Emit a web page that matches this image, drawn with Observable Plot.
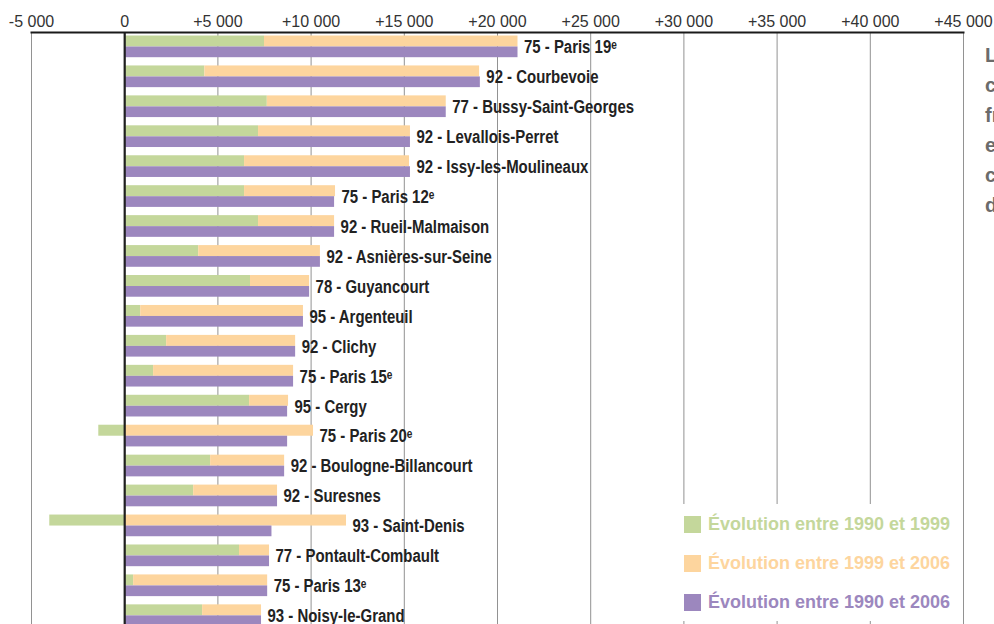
<!DOCTYPE html>
<html><head><meta charset="utf-8">
<script src="https://cdn.jsdelivr.net/npm/d3@7"></script>
<script src="https://cdn.jsdelivr.net/npm/@observablehq/plot@0.6"></script>
<style>
html,body{margin:0;padding:0;background:#fff;overflow:hidden;width:994px;height:624px;}
#wrap{position:relative;width:994px;height:624px;overflow:hidden;}
#wrap svg{position:absolute;left:0;top:0;}
#legend{position:absolute;left:676px;top:504px;width:282px;height:117px;background:#fff;}
.li{position:absolute;left:8px;height:17px;display:flex;align-items:center;white-space:nowrap;font-family:"Liberation Sans",Arial,sans-serif;font-weight:bold;font-size:18px;}
.sw{width:17px;height:17px;margin-right:7px;flex:none;}
#note{position:absolute;left:985px;top:40px;font-family:"Liberation Sans",sans-serif;font-weight:bold;font-size:20px;line-height:30px;color:#6b6b6b;white-space:nowrap;}
</style>
</head><body><div id="wrap"></div>
<script>
// ---- data ----
const communes = [
  "75 - Paris 19ᵉ", "92 - Courbevoie", "77 - Bussy-Saint-Georges", "92 - Levallois-Perret",
  "92 - Issy-les-Moulineaux", "75 - Paris 12ᵉ", "92 - Rueil-Malmaison", "92 - Asnières-sur-Seine",
  "78 - Guyancourt", "95 - Argenteuil", "92 - Clichy", "75 - Paris 15ᵉ", "95 - Cergy",
  "75 - Paris 20ᵉ", "92 - Boulogne-Billancourt", "92 - Suresnes", "93 - Saint-Denis",
  "77 - Pontault-Combault", "75 - Paris 13ᵉ", "93 - Noisy-le-Grand"
];
const evol1990_1999 = [7500, 4300, 7650, 7180, 6430, 6430, 7180, 3970, 6750, 860, 2250, 1550, 6700, -1390, 4610, 3700, -4020, 6160, 480, 4180];
const evol1999_2006 = [13600, 14740, 9600, 8150, 8850, 4880, 4080, 6530, 3170, 8730, 6920, 7510, 2090, 10130, 3970, 4500, 11900, 1610, 7190, 3160];
const evol1990_2006 = [21100, 19080, 17250, 15330, 15330, 11260, 11260, 10500, 9920, 9590, 9170, 9060, 8740, 8740, 8580, 8200, 7900, 7770, 7670, 7340];
const seriesNames = ["Évolution entre 1990 et 1999", "Évolution entre 1999 et 2006", "Évolution entre 1990 et 2006"];
const seriesColors = ["#c4d79b", "#fdd59e", "#9c87be"];
const xTicks = [-5000, 0, 5000, 10000, 15000, 20000, 25000, 30000, 35000, 40000, 45000];
const xTickLabels = ["-5 000", "0", "+5 000", "+10 000", "+15 000", "+20 000", "+25 000", "+30 000", "+35 000", "+40 000", "+45 000"];
const noteLines = ["Les", "communes", "franciliennes", "en", "croissance", "démographique"];

// ---- tables ----
const rows = communes.map((name, i) => ({name, g: evol1990_1999[i], o: evol1999_2006[i], t: evol1990_2006[i]}));
const stacked = rows.flatMap(r => [
  {name: r.name, serie: seriesNames[0], v: r.g},
  {name: r.name, serie: seriesNames[1], v: r.o}
]);
const labels = rows.map(r => ({name: r.name, x: Math.max(r.g > 0 ? r.g + r.o : r.o, r.t)}));

const bw = 29.94, y0 = 32.5;
const chart = Plot.plot({
  width: 994, height: 624,
  marginTop: 32, marginLeft: 31, marginRight: 31, marginBottom: 0,
  style: {fontFamily: "'Liberation Sans', Arial, sans-serif", fontSize: "16px", background: "#fff", overflow: "hidden"},
  x: {domain: [-5000, 45000], axis: null},
  y: {domain: communes, range: [y0, y0 + communes.length * bw], padding: 0, round: false, axis: null},
  color: {domain: seriesNames, range: seriesColors},
  marks: [
    Plot.ruleX(xTicks, {stroke: "#929292", strokeWidth: 1}),
    Plot.barX(stacked, Plot.stackX({y: "name", x: "v", fill: "serie", insetTop: 3, insetBottom: bw - 14})),
    Plot.barX(rows, {y: "name", x: "t", fill: () => seriesNames[2], insetTop: 14, insetBottom: bw - 24.7}),
    Plot.ruleX([0], {stroke: "#1f1f1f", strokeWidth: 2.2}),
    Plot.text(labels, {x: "x", y: "name", text: "name", dx: 6, dy: -0.5, textAnchor: "start",
      fontSize: 18, fontWeight: "bold", fill: "#222"}),
    Plot.axisX(xTicks, {anchor: "top", tickSize: 0, tickPadding: 6, fill: "#333",
      tickFormat: d => xTickLabels[xTicks.indexOf(d)]}),
    Plot.frame({anchor: "top", stroke: "#1a1a1a", strokeWidth: 2})
  ]
});
const wrap = document.getElementById("wrap");
wrap.appendChild(chart);

// condensed look for the commune labels (font is condensed in the original)
const nameSet = new Set(communes);
chart.querySelectorAll("text").forEach(t => {
  if (nameSet.has(t.textContent)) {
    const w = t.getComputedTextLength();
    t.setAttribute("textLength", (w * 0.83).toFixed(1));
    t.setAttribute("lengthAdjust", "spacingAndGlyphs");
  }
});

// legend
const legend = document.createElement("div");
legend.id = "legend";
seriesNames.forEach((s, i) => {
  const item = document.createElement("div");
  item.className = "li";
  item.style.top = (12 + i * 39) + "px";
  item.style.color = seriesColors[i];
  const sw = document.createElement("span");
  sw.className = "sw";
  sw.style.background = seriesColors[i];
  item.appendChild(sw);
  item.appendChild(document.createTextNode(s));
  legend.appendChild(item);
});
wrap.appendChild(legend);

// right-side note (cut off at the page edge, as in the original)
const note = document.createElement("div");
note.id = "note";
note.innerHTML = noteLines.join("<br>");
wrap.appendChild(note);
</script></body></html>
